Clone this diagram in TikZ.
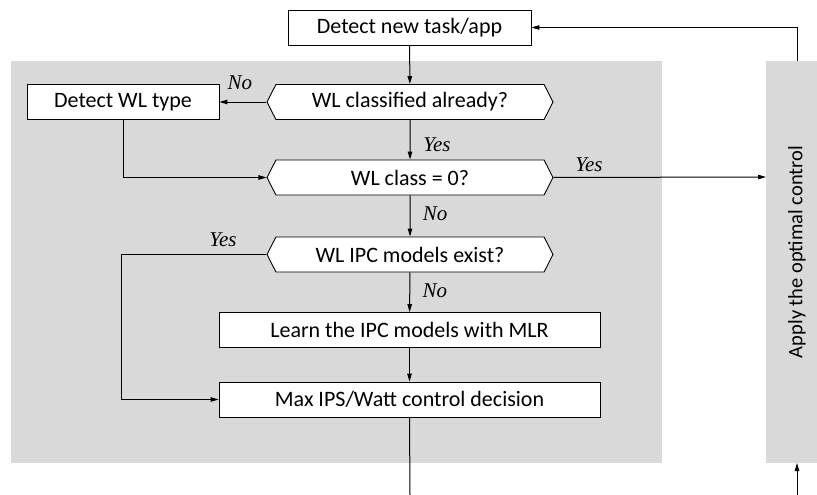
\documentclass[tikz,border=0pt]{standalone}
\usepackage{fontspec}
\setmainfont{Carlito}
\newfontfamily\labelfont{Liberation Serif}
\usetikzlibrary{shapes.symbols,arrows.meta}
\begin{document}
\begin{tikzpicture}[x=1pt,y=-1pt,
  every node/.style={font=\fontsize{22}{26}\selectfont},
  box/.style={draw, fill=white, line width=0.9pt, minimum height=35, inner sep=0pt},
  query/.style={draw, fill=white, line width=0.9pt, shape=signal, signal to=west and east,
    signal pointer angle=126, minimum width=286, minimum height=35, inner sep=0pt},
  lbl/.style={font=\labelfont\itshape\fontsize{21}{24}\selectfont, inner sep=0pt},
  flow/.style={line width=1pt, -{Triangle[length=8pt,width=4.5pt]}},
  plain/.style={line width=1pt}]
\useasboundingbox (0,0) rectangle (817,495);
% shaded regions
\fill[gray!30] (11,61) rectangle (662,463);
\fill[gray!30] (766,61) rectangle (817,463);
\node (apply) [rotate=90, font=\fontsize{20.5}{24}\selectfont] at (797,252) {Apply the optimal control};
\coordinate (applytop) at (797,61);
\coordinate (applybot) at (797,463);
\coordinate (applyin) at (766,177);
\coordinate (feed) at (797,495);
\coordinate (out) at (410,495);

% nodes
\node (new) [box, minimum width=243] at (409.5,27.5) {Detect new task/app};
\node (q1) [query] at (410,102) {WL classified already?};
\node (type) [box, minimum width=192] at (123,102) {Detect WL type};
\node (q2) [query] at (410,177.5) {WL class = 0?};
\node (q3) [query] at (410,254.5) {WL IPC models exist?};
\node (learn) [box, minimum width=381] at (409.5,330) {Learn the IPC models with MLR};
\node (max) [box, minimum width=381] at (409.5,399.5) {Max IPS/Watt control decision};

% connectors
\draw[flow] (new) -- (q1);
\draw[flow] (q1.west) -- node[lbl, midway, xshift=-3pt, yshift=19pt] {No} (type.east);
\draw[flow] (q1) -- node[lbl, midway, xshift=27pt, yshift=-5pt] {Yes} (q2);
\draw[flow] (type.south) |- (q2.west);
\draw[flow] (q2.east) -- node[lbl, pos=0.167, yshift=13pt] {Yes} (applyin);
\draw[flow] (q2) -- node[lbl, midway, xshift=25pt, yshift=2pt] {No} (q3);
\draw[flow] (q3.west) -- node[lbl, pos=0.3, yshift=15pt] {Yes} ++(-145,0) |- (max.west);
\draw[flow] (q3) -- node[lbl, midway, xshift=25pt, yshift=2pt] {No} (learn);
\draw[flow] (learn) -- (max);
\draw[plain] (max.south) -- (out);
\draw[flow] (feed) -- (applybot);
\draw[flow] (applytop) |- (new.east);
\end{tikzpicture}
\end{document}
